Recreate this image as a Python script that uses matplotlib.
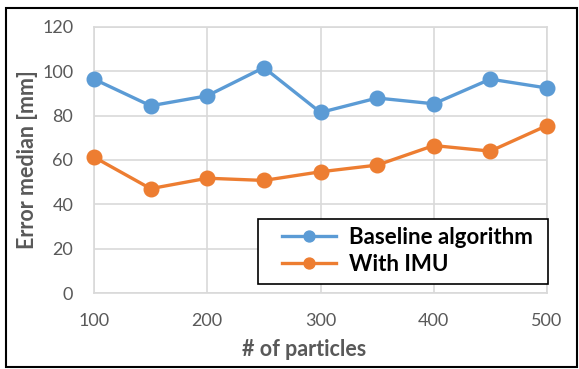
import matplotlib
matplotlib.use("Agg")
import matplotlib.pyplot as plt
from matplotlib.patches import Rectangle

particles = [100, 150, 200, 250, 300, 350, 400, 450, 500]
baseline = [96.4, 84.4, 88.9, 101.6, 81.4, 87.9, 85.3, 96.4, 92.4]
with_imu = [61.3, 47.1, 51.8, 50.8, 54.7, 57.7, 66.5, 64.0, 75.5]
y_ticks = [0, 20, 40, 60, 80, 100, 120]
x_ticks = [100, 200, 300, 400, 500]

plt.rcParams['font.family'] = ['Lato', 'DejaVu Sans']

W, H = 579, 369
fig = plt.figure(figsize=(W / 100, H / 100), dpi=100)
ax = fig.add_axes([94 / W, 1 - 293.3 / H, (547 - 94) / W, (293.3 - 26.7) / H])
aw, ah = 547 - 94, 293.3 - 26.7

# outer frame round the chart
fig.patches.append(Rectangle((6 / W, 1 - 366.5 / H), (577 - 6) / W, (366.5 - 7.5) / H,
                             transform=fig.transFigure, fill=False, edgecolor='black', lw=1.5))

ax.plot(particles, baseline, color='#5B9BD5', lw=2.4, marker='o', ms=10.5,
        label='Baseline algorithm', zorder=3, clip_on=False)
ax.plot(particles, with_imu, color='#ED7D31', lw=2.4, marker='o', ms=10.5,
        label='With IMU', zorder=3, clip_on=False)

ax.set_xlim(100, 500)
ax.set_ylim(0, 120)
ax.set_xticks(x_ticks)
ax.set_yticks(y_ticks)
ax.grid(True, color='#D9D9D9', lw=1.2)
ax.set_axisbelow(True)
for s in ax.spines.values():
    s.set_color('#D9D9D9')
    s.set_linewidth(1.2)
ax.tick_params(length=0, labelsize=13, labelcolor='#595959')
ax.tick_params(axis='x', pad=14)
ax.tick_params(axis='y', pad=15)

ax.set_xlabel('# of particles', fontsize=15.5, fontweight='bold', color='#595959')
ax.xaxis.set_label_coords((304 - 94) / aw, -(339 - 293.3) / ah)
ax.set_ylabel('Error median [mm]', fontsize=15.5, fontweight='bold', color='#595959')
ax.yaxis.set_label_coords(-(94 - 38) / aw, 0.5)

# legend box drawn by hand, entries placed inside it
box = Rectangle(((258 - 94) / aw, (293.3 - 284) / ah), (548.3 - 258) / aw, (284 - 219.3) / ah,
                transform=ax.transAxes, facecolor='white', edgecolor='black', lw=1.2,
                clip_on=False, zorder=4)
ax.add_patch(box)
leg = ax.legend(loc='upper left', bbox_to_anchor=((282 - 94) / aw, (293.3 - 227) / ah),
                frameon=False, prop={'weight': 'bold', 'size': 16}, handlelength=2.45,
                handletextpad=0.55, borderaxespad=0, borderpad=0, labelspacing=0.28,
                markerscale=0.75)
leg.set_zorder(5)
for t in leg.get_texts():
    t.set_color('black')

fig.savefig('out.png', dpi=100)
